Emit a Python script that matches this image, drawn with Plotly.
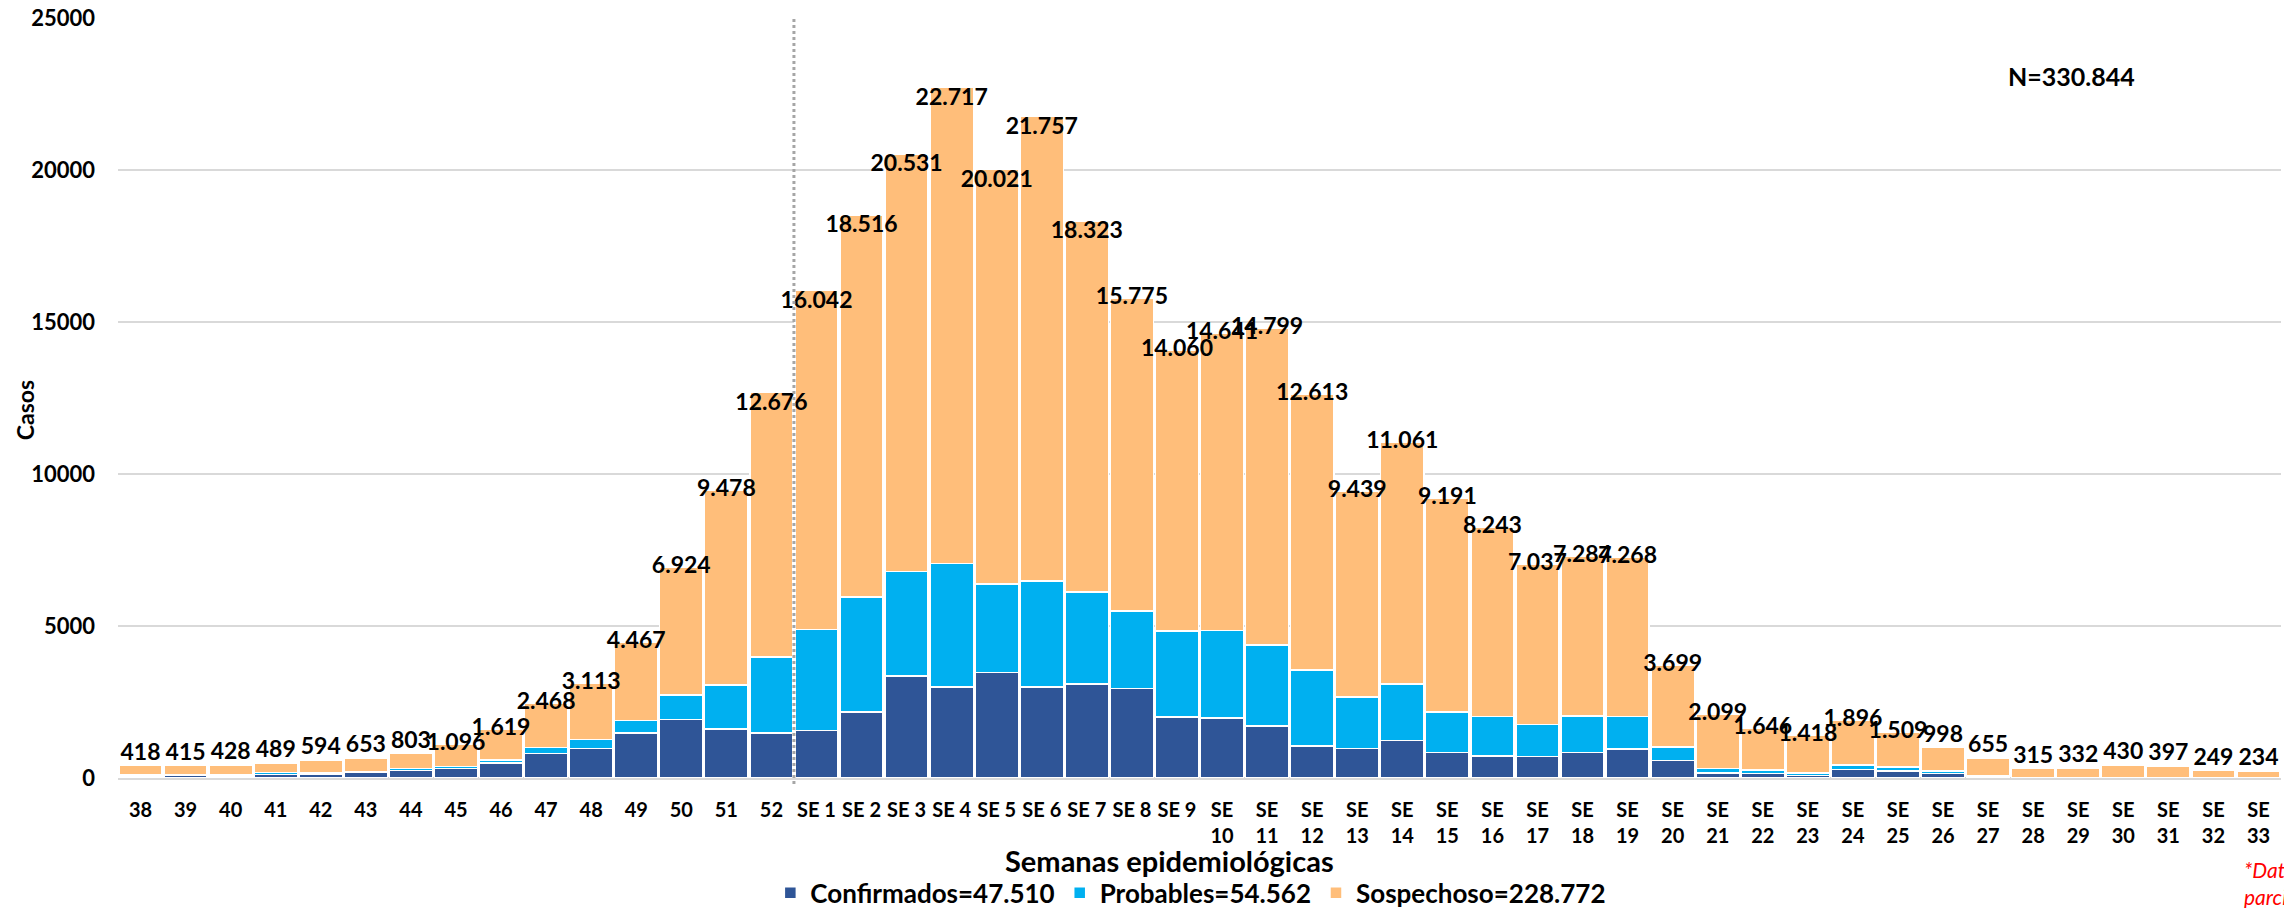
import plotly.graph_objects as go

# ---------------- data ----------------
weeks = ["38", "39", "40", "41", "42", "43", "44", "45", "46", "47", "48", "49", "50", "51", "52",
         "SE 1", "SE 2", "SE 3", "SE 4", "SE 5", "SE 6", "SE 7", "SE 8", "SE 9", "SE 10",
         "SE 11", "SE 12", "SE 13", "SE 14", "SE 15", "SE 16", "SE 17", "SE 18", "SE 19", "SE 20",
         "SE 21", "SE 22", "SE 23", "SE 24", "SE 25", "SE 26", "SE 27", "SE 28", "SE 29", "SE 30",
         "SE 31", "SE 32", "SE 33"]

tick_labels = ["38", "39", "40", "41", "42", "43", "44", "45", "46", "47", "48", "49", "50", "51", "52",
               "SE 1", "SE 2", "SE 3", "SE 4", "SE 5", "SE 6", "SE 7", "SE 8", "SE 9", "SE<br>10",
               "SE<br>11", "SE<br>12", "SE<br>13", "SE<br>14", "SE<br>15", "SE<br>16", "SE<br>17",
               "SE<br>18", "SE<br>19", "SE<br>20", "SE<br>21", "SE<br>22", "SE<br>23", "SE<br>24",
               "SE<br>25", "SE<br>26", "SE<br>27", "SE<br>28", "SE<br>29", "SE<br>30", "SE<br>31",
               "SE<br>32", "SE<br>33"]

totals = [418, 415, 428, 489, 594, 653, 803, 1096, 1619, 2468, 3113, 4467, 6924, 9478, 12676,
          16042, 18516, 20531, 22717, 20021, 21757, 18323, 15775, 14060, 14641,
          14799, 12613, 9439, 11061, 9191, 8243, 7037, 7284, 7268, 3699,
          2099, 1646, 1418, 1896, 1509, 998, 655, 315, 332, 430,
          397, 249, 234]

confirmados = [55, 80, 70, 110, 120, 175, 250, 305, 490, 800, 965, 1480, 1920, 1610, 1480,
               1555, 2170, 3355, 2990, 3465, 2990, 3090, 2940, 2005, 1975,
               1710, 1050, 965, 1240, 845, 725, 710, 835, 955, 570,
               165, 140, 75, 275, 230, 140, 30, 5, 5, 5,
               5, 3, 3]

probables = [45, 25, 50, 65, 45, 45, 55, 80, 100, 200, 305, 415, 810, 1450, 2500,
             3330, 3780, 3440, 4065, 2915, 3485, 3035, 2555, 2830, 2880,
             2665, 2500, 1700, 1850, 1325, 1295, 1050, 1205, 1065, 450,
             155, 120, 90, 155, 130, 90, 35, 5, 5, 5,
             5, 3, 3]

sospechosos = [t - c - p for t, c, p in zip(totals, confirmados, probables)]

legend_names = ["Confirmados=47.510", "Probables=54.562", "Sospechoso=228.772"]
total_text = "N=330.844"
note_text = "*Datos<br>parciales"
x_title = "Semanas epidemiológicas"
y_title = "Casos"

# ---------------- styles ----------------
FONT = "Lato, 'Liberation Sans', Arial, sans-serif"
colors = ["#2F5597", "#00B0F0", "#FFBE7A"]

label_pos = (["top center"] * 7 + ["middle center"] * 7 + ["bottom center"] * 8 +
             ["middle center"] * 18 + ["top center"] * 8)

labels = [f"{v:,}".replace(",", ".") for v in totals]

fig = go.Figure()
for name, vals, col in zip(legend_names, [confirmados, probables, sospechosos], colors):
    fig.add_trace(go.Bar(
        x=weeks, y=vals, name=name,
        marker=dict(color=col, line=dict(color="white", width=1.5)),
    ))

fig.add_trace(go.Scatter(
    x=weeks, y=totals, mode="text", text=labels, textposition=label_pos,
    textfont=dict(family=FONT, size=23, color="black", weight="bold"),
    showlegend=False, cliponaxis=False, hoverinfo="skip",
))

sep_x = weeks.index("SE 1") - 0.5
fig.add_shape(type="line", xref="x", yref="paper", x0=sep_x, x1=sep_x, y0=-0.008, y1=1,
              line=dict(color="#A6A6A6", width=3, dash="dot"))

fig.add_annotation(text=total_text, xref="paper", yref="paper", x=0.903, y=0.924,
                   xanchor="center", yanchor="middle", showarrow=False,
                   font=dict(family=FONT, size=25, color="black", weight="bold"))

fig.add_annotation(text=note_text, xref="paper", yref="paper", x=0.9822, y=-0.101,
                   xanchor="left", yanchor="top", align="left", showarrow=False,
                   font=dict(family=FONT, size=21, color="#FF0000", style="italic"))

fig.add_annotation(text=y_title, xref="paper", yref="paper", x=-0.043, y=0.484,
                   xanchor="center", yanchor="middle", textangle=-90, showarrow=False,
                   font=dict(family=FONT, size=23, color="black", weight="bold"))

fig.add_annotation(text=x_title, xref="paper", yref="paper", x=0.486, y=-0.108,
                   xanchor="center", yanchor="middle", showarrow=False,
                   font=dict(family=FONT, size=29, color="black", weight="bold"))

fig.update_layout(
    width=2284, height=900,
    margin=dict(l=110, r=11, t=10, b=130, autoexpand=False),
    barmode="stack", bargap=0.04,
    plot_bgcolor="white", paper_bgcolor="white",
    font=dict(family=FONT, color="black"),
    legend=dict(orientation="h", x=0.496, xanchor="center", y=-0.151, yanchor="middle",
                font=dict(family=FONT, size=26, color="black", weight="bold"),
                traceorder="normal", itemwidth=30),
    xaxis=dict(type="category", tickvals=weeks, ticktext=tick_labels, showgrid=False,
               range=[-0.5, len(weeks) - 0.5], automargin=False,
               ticks="", ticklabelstandoff=18,
               tickfont=dict(family=FONT, size=20, color="black", weight="bold")),
    yaxis=dict(range=[0, 25000], dtick=5000, tickformat="d", showgrid=True,
               automargin=False, ticklabeloverflow="allow",
               gridcolor="#D9D9D9", gridwidth=2, zeroline=True, zerolinecolor="#D9D9D9",
               zerolinewidth=3, ticks="", ticklabelstandoff=22,
               tickfont=dict(family=FONT, size=22, color="black", weight="bold")),
)

fig.write_html("out.html")
